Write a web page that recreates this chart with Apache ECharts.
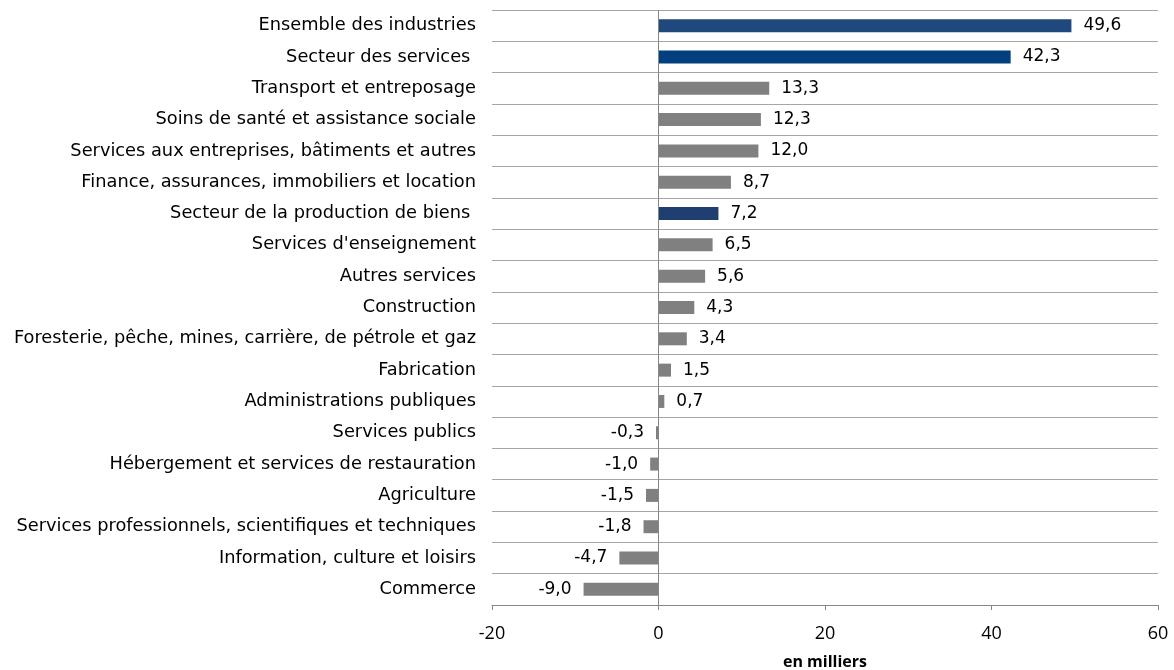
<!DOCTYPE html>
<html>
<head>
<meta charset="utf-8">
<script src="https://cdn.jsdelivr.net/npm/echarts@6/dist/echarts.min.js"></script>
<style>
  html, body { margin: 0; padding: 0; background: #fff; }
  #chart { width: 1174px; height: 670px; }
</style>
</head>
<body>
<div id="chart"></div>
<script>
// categories, top to bottom
const categories = [
  'Ensemble des industries',
  'Secteur des services ',
  'Transport et entreposage',
  'Soins de santé et assistance sociale',
  'Services aux entreprises, bâtiments et autres',
  'Finance, assurances, immobiliers et location',
  'Secteur de la production de biens ',
  "Services d'enseignement",
  'Autres services',
  'Construction',
  'Foresterie, pêche, mines, carrière, de pétrole et gaz',
  'Fabrication',
  'Administrations publiques',
  'Services publics',
  'Hébergement et services de restauration',
  'Agriculture',
  'Services professionnels, scientifiques et techniques',
  'Information, culture et loisirs',
  'Commerce',
]
// variation de l'emploi, en milliers
const values = [49.6, 42.3, 13.3, 12.3, 12.0, 8.7, 7.2, 6.5, 5.6, 4.3, 3.4, 1.5, 0.7, -0.3, -1.0, -1.5, -1.8, -4.7, -9.0]
// aggregate rows drawn in blue
const aggregates = ['Ensemble des industries', 'Secteur des services ', 'Secteur de la production de biens ']
const xTicks = [-20, 0, 20, 40, 60]

const blues = ['#1f497d', '#023f7f', '#1f3f70']
const GREY = '#808080'
const LABEL_FONT = 'DejaVu Sans'

const fmt = v => v.toFixed(1).replace('.', ',')
const colorFor = name => {
  const k = aggregates.indexOf(name)
  return k < 0 ? GREY : blues[k]
}

const chart = echarts.init(document.getElementById('chart'))
chart.setOption({
  animation: false,
  grid: { left: 492, right: 16, top: 10, bottom: 65, containLabel: false, outerBoundsMode: 'none' },
  xAxis: {
    type: 'value',
    min: xTicks[0],
    max: xTicks[xTicks.length - 1],
    interval: 20,
    axisLine: { show: true, lineStyle: { color: '#868686', width: 1 } },
    axisTick: { show: true, length: 5, lineStyle: { color: '#868686' } },
    splitLine: { show: false },
    axisLabel: { color: '#000', fontSize: 18, fontFamily: 'Open Sans', margin: 20 },
    name: 'en milliers',
    nameLocation: 'middle',
    nameGap: 49,
    nameTextStyle: { color: '#000', fontSize: 16, fontWeight: 'bold', fontFamily: 'Open Sans' },
  },
  yAxis: {
    type: 'category',
    inverse: true,
    data: categories,
    axisLine: { show: false },
    axisTick: { show: false },
    splitLine: { show: true, lineStyle: { color: '#a6a6a6', width: 1 } },
    axisLabel: { color: '#000', fontSize: 17.8, fontFamily: LABEL_FONT, margin: 16, padding: [6, 0, 0, 0] },
  },
  series: [{
    type: 'bar',
    barWidth: 13,
    data: values.map((v, i) => ({
      value: v,
      itemStyle: { color: colorFor(categories[i]) },
      label: { position: v < 0 ? 'left' : 'right' },
    })),
    label: {
      show: true,
      distance: 12,
      color: '#000',
      fontSize: 17,
      fontFamily: LABEL_FONT,
      padding: [5, 0, 0, 0],
      formatter: p => fmt(p.value),
    },
    markLine: {
      silent: true,
      symbol: 'none',
      label: { show: false },
      lineStyle: { color: '#868686', width: 1, type: 'solid' },
      data: [{ xAxis: 0 }],
    },
  }],
})
</script>
</body>
</html>
